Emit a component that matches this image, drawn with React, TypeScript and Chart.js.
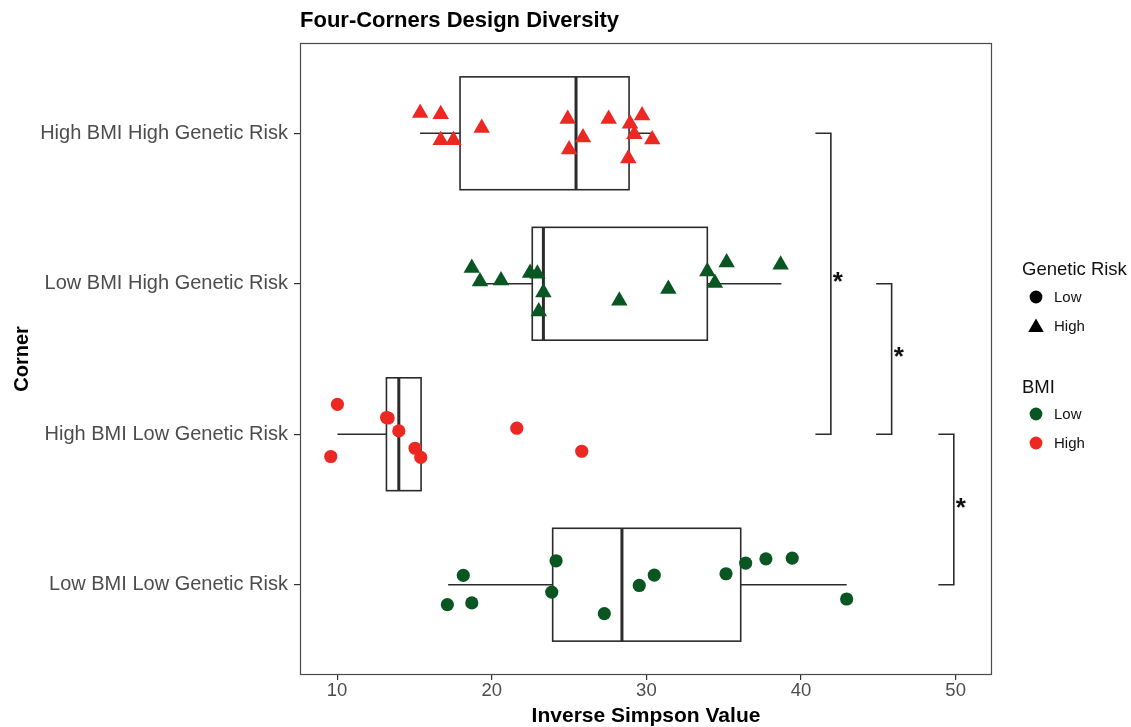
import React, { useEffect, useRef } from 'react';
import { Chart, registerables } from 'chart.js';

Chart.register(...registerables);

// ---------- data ----------
const categories = [
  'High BMI High Genetic Risk',
  'Low BMI High Genetic Risk',
  'High BMI Low Genetic Risk',
  'Low BMI Low Genetic Risk',
];
const xTicks = [10, 20, 30, 40, 50];

// jittered points (x = Inverse Simpson value, jitter = vertical offset within the category band)
const hbhgValues = [15.37, 16.7, 16.7, 17.52, 19.35, 24.91, 25.0, 25.9, 27.56, 28.94, 29.72, 29.22, 30.38, 28.83];
const hbhgJitter = [-0.134, -0.126, 0.046, 0.046, -0.035, -0.095, 0.108, 0.028, -0.095, -0.064, -0.119, 0.007, 0.042, 0.168];

const lbhgValues = [18.71, 19.24, 20.6, 22.48, 22.95, 23.34, 23.04, 28.25, 31.42, 33.94, 35.19, 34.43, 38.68];
const lbhgJitter = [-0.104, -0.015, -0.022, -0.071, -0.066, 0.058, 0.184, 0.113, 0.035, -0.082, -0.141, -0.005, -0.126];

const hblgValues = [10.02, 9.59, 13.2, 13.3, 13.99, 15.04, 15.41, 21.62, 25.82];
const hblgJitter = [-0.199, 0.148, -0.111, -0.108, -0.022, 0.093, 0.154, -0.04, 0.113];

const lblgValues = [18.16, 17.13, 18.71, 24.16, 23.88, 27.28, 29.54, 30.51, 35.15, 36.42, 37.73, 39.43, 42.95];
const lblgJitter = [-0.062, 0.132, 0.121, -0.159, 0.049, 0.192, 0.005, -0.064, -0.073, -0.144, -0.172, -0.177, 0.095];

// box statistics per category
const boxQ1 = [17.95, 22.62, 13.19, 23.94];
const boxMedian = [25.45, 23.34, 13.99, 28.42];
const boxQ3 = [28.88, 33.94, 15.43, 36.1];
const whiskerLow = [15.37, 18.92, 10.02, 17.18];
const whiskerHigh = [30.43, 38.73, 15.43, 42.95];

// significance brackets
const bracketFrom = [0, 1, 2];
const bracketTo = [2, 2, 3];
const bracketX = [41.93, 45.86, 49.88];
const bracketLabels = ['*', '*', '*'];
const bracketTick = 1.0;

const RED = 'rgb(236,40,34)';
const GREEN = 'rgb(10,86,34)';
const FONT = '"Liberation Sans", Arial, Helvetica, sans-serif';

export default function App() {
  const ref = useRef<HTMLCanvasElement>(null);

  useEffect(() => {
    const canvas = ref.current;
    if (!canvas) return;

    const mk = (vals: number[], jit: number[], cat: number) =>
      vals.map((v, i) => ({ x: v, y: cat + jit[i] }));

    const datasets: any[] = [
      { label: categories[0], data: mk(hbhgValues, hbhgJitter, 0), pointStyle: 'triangle', pointRadius: 9.5, backgroundColor: RED, borderColor: RED, pointBorderWidth: 0 },
      { label: categories[1], data: mk(lbhgValues, lbhgJitter, 1), pointStyle: 'triangle', pointRadius: 9.5, backgroundColor: GREEN, borderColor: GREEN, pointBorderWidth: 0 },
      { label: categories[2], data: mk(hblgValues, hblgJitter, 2), pointStyle: 'circle', pointRadius: 6.6, backgroundColor: RED, borderColor: RED, pointBorderWidth: 0 },
      { label: categories[3], data: mk(lblgValues, lblgJitter, 3), pointStyle: 'circle', pointRadius: 6.6, backgroundColor: GREEN, borderColor: GREEN, pointBorderWidth: 0 },
    ];

    const plugin = {
      id: 'decor',
      beforeDatasetsDraw(chart: any) {
        const { ctx, chartArea: a, scales } = chart;
        const xs = scales.x;
        const ys = scales.y;
        ctx.save();
        // panel border
        ctx.strokeStyle = '#4a4a4a';
        ctx.lineWidth = 1.2;
        ctx.strokeRect(a.left + 0.5, a.top + 0.5, a.right - a.left - 1, a.bottom - a.top - 1);
        // boxes
        const half = 0.375;
        categories.forEach((_, i) => {
          const yc = ys.getPixelForValue(i);
          const yt = ys.getPixelForValue(i - half);
          const yb = ys.getPixelForValue(i + half);
          const q1 = xs.getPixelForValue(boxQ1[i]);
          const q3 = xs.getPixelForValue(boxQ3[i]);
          const md = xs.getPixelForValue(boxMedian[i]);
          const wl = xs.getPixelForValue(whiskerLow[i]);
          const wh = xs.getPixelForValue(whiskerHigh[i]);
          ctx.strokeStyle = '#2b2b2b';
          ctx.lineWidth = 1.6;
          ctx.beginPath();
          ctx.moveTo(wl, yc);
          ctx.lineTo(q1, yc);
          ctx.moveTo(q3, yc);
          ctx.lineTo(wh, yc);
          ctx.stroke();
          ctx.strokeRect(q1, yt, q3 - q1, yb - yt);
          ctx.lineWidth = 3;
          ctx.beginPath();
          ctx.moveTo(md, yt);
          ctx.lineTo(md, yb);
          ctx.stroke();
        });
        ctx.restore();
      },
      afterDraw(chart: any) {
        const { ctx, scales } = chart;
        const xs = scales.x;
        const ys = scales.y;
        ctx.save();
        // brackets
        ctx.strokeStyle = '#2b2b2b';
        ctx.lineWidth = 1.6;
        bracketX.forEach((bx, i) => {
          const x1 = xs.getPixelForValue(bx - bracketTick);
          const x2 = xs.getPixelForValue(bx);
          const y1 = ys.getPixelForValue(bracketFrom[i]);
          const y2 = ys.getPixelForValue(bracketTo[i]);
          ctx.beginPath();
          ctx.moveTo(x1, y1);
          ctx.lineTo(x2, y1);
          ctx.lineTo(x2, y2);
          ctx.lineTo(x1, y2);
          ctx.stroke();
          ctx.fillStyle = '#111';
          ctx.font = `bold 26px ${FONT}`;
          ctx.textAlign = 'left';
          ctx.textBaseline = 'middle';
          ctx.fillText(bracketLabels[i], x2 + 2, (y1 + y2) / 2 - 1);
        });
        // title
        ctx.fillStyle = '#000';
        ctx.font = `bold 22px ${FONT}`;
        ctx.textAlign = 'left';
        ctx.textBaseline = 'alphabetic';
        ctx.fillText('Four-Corners Design Diversity', 300, 27);
        // legend
        const lx = 1022;
        const sx = 1036;
        const tx = 1054;
        ctx.font = `18.5px ${FONT}`;
        ctx.fillStyle = '#111';
        ctx.fillText('Genetic Risk', lx, 275);
        ctx.fillText('BMI', lx, 393);
        ctx.font = `15px ${FONT}`;
        const item = (cy: number, label: string, color: string, shape: string) => {
          ctx.fillStyle = color;
          ctx.beginPath();
          if (shape === 'circle') {
            ctx.arc(sx, cy, 6.4, 0, Math.PI * 2);
          } else {
            const r = 9;
            for (let k = 0; k < 3; k++) {
              const ang = -Math.PI / 2 + (k * 2 * Math.PI) / 3;
              const px = sx + r * Math.cos(ang);
              const py = cy + 1.5 + r * Math.sin(ang);
              if (k === 0) ctx.moveTo(px, py);
              else ctx.lineTo(px, py);
            }
            ctx.closePath();
          }
          ctx.fill();
          ctx.fillStyle = '#111';
          ctx.fillText(label, tx, cy + 5.4);
        };
        item(297, 'Low', '#000', 'circle');
        item(326, 'High', '#000', 'triangle');
        item(414, 'Low', GREEN, 'circle');
        item(443, 'High', RED, 'circle');
        ctx.restore();
      },
    };

    const chart = new Chart(canvas, {
      type: 'scatter',
      data: { datasets },
      options: {
        animation: false,
        responsive: false,
        maintainAspectRatio: false,
        devicePixelRatio: 1,
        layout: { padding: { top: 43, right: 139, left: 0, bottom: 0 } },
        plugins: { legend: { display: false }, tooltip: { enabled: false }, title: { display: false } },
        scales: {
          x: {
            type: 'linear',
            min: 7.6,
            max: 52.35,
            afterBuildTicks: (s: any) => {
              s.ticks = xTicks.map((v) => ({ value: v }));
            },
            afterFit: (s: any) => {
              s.height = 52;
            },
            grid: { display: true, drawOnChartArea: false, drawTicks: true, tickLength: 5, color: '#333', lineWidth: 1.2 },
            border: { display: false },
            ticks: { color: '#4d4d4d', font: { family: FONT, size: 18.5 }, padding: 0, maxRotation: 0 },
            title: {
              display: true,
              text: 'Inverse Simpson Value',
              color: '#000',
              font: { family: FONT, size: 21, weight: 'bold', lineHeight: 1 },
              padding: { top: 0, bottom: 0 },
            },
          },
          y: {
            type: 'linear',
            min: -0.6,
            max: 3.6,
            reverse: true,
            afterBuildTicks: (s: any) => {
              s.ticks = categories.map((_, i) => ({ value: i }));
            },
            afterFit: (s: any) => {
              s.width = 300;
            },
            grid: { display: true, drawOnChartArea: false, drawTicks: true, tickLength: 6, color: '#333', lineWidth: 1.2 },
            border: { display: false },
            ticks: {
              color: '#4d4d4d',
              font: { family: FONT, size: 20 },
              padding: 6,
              callback: (v: any) => categories[Math.round(Number(v))] ?? '',
            },
            title: {
              display: true,
              text: 'Corner',
              color: '#000',
              font: { family: FONT, size: 20, weight: 'bold', lineHeight: 1.2 },
              padding: { top: 10, bottom: 0 },
            },
          },
        },
      } as any,
      plugins: [plugin],
    });

    return () => chart.destroy();
  }, []);

  return (
    <div style={{ position: 'fixed', left: 0, top: 0, width: 1131, height: 727, background: '#fff' }}>
      <canvas ref={ref} width={1131} height={727} style={{ display: 'block', width: 1131, height: 727 }} />
    </div>
  );
}
